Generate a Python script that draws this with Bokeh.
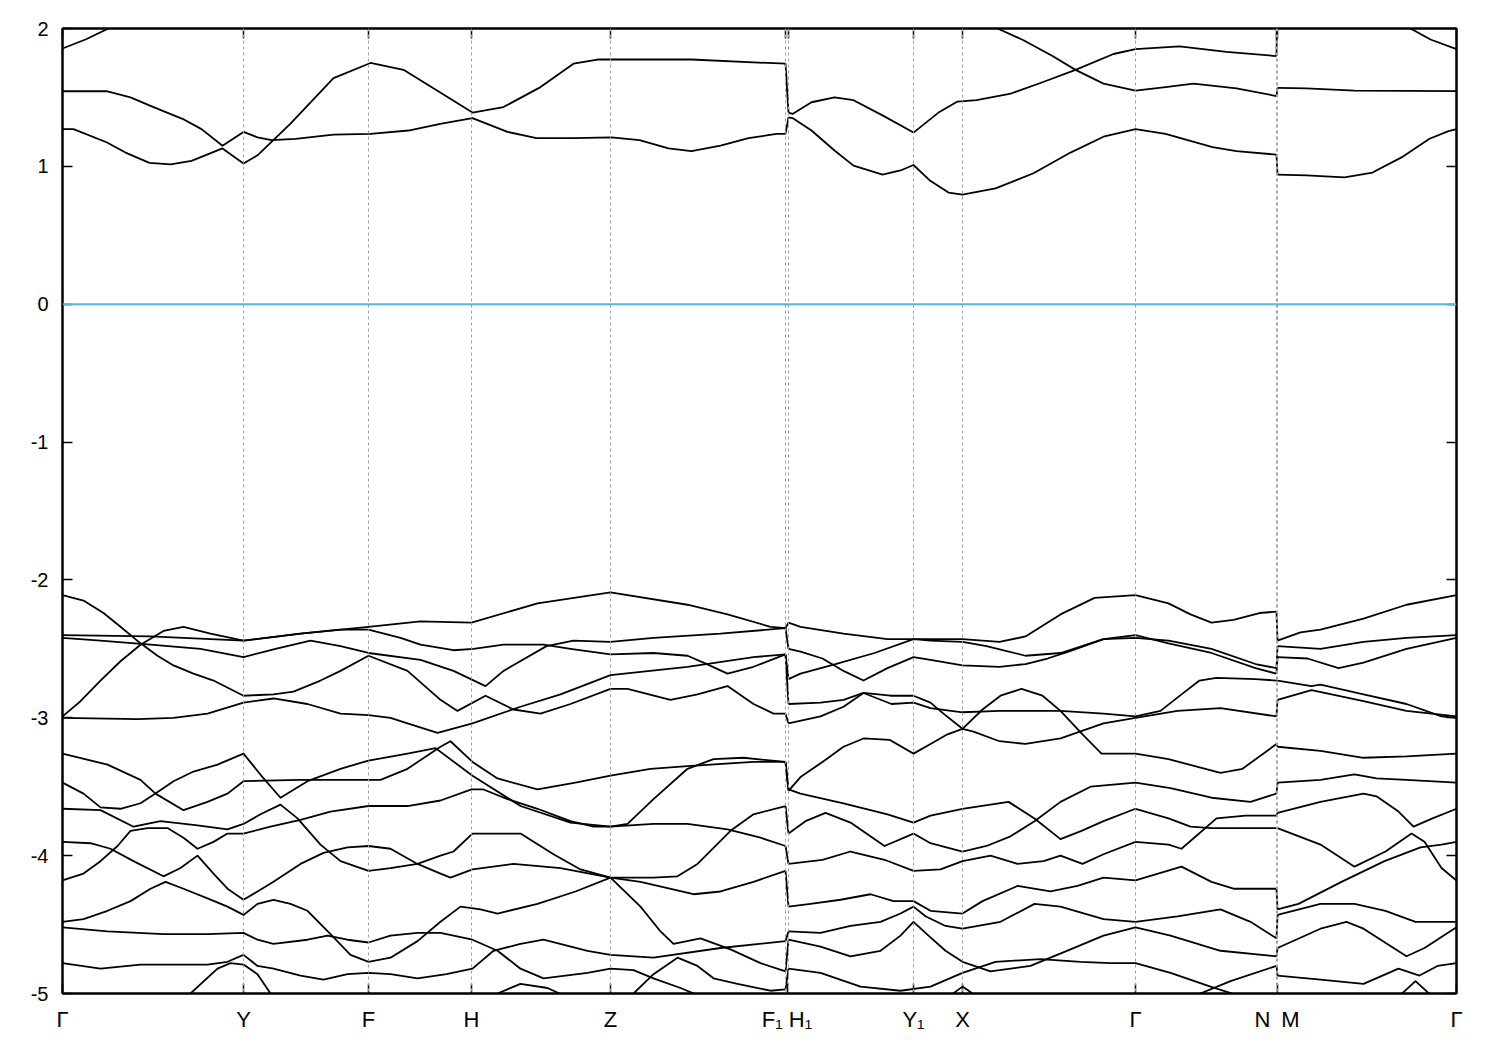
from bokeh.plotting import figure
from bokeh.models import FixedTicker, Span, LinearAxis, Range1d
from bokeh.embed import file_html
from bokeh.resources import INLINE

# ---------------- data ----------------
# high-symmetry points along the k-path (path length, arbitrary units)
K_POINTS = [0.000, 0.181, 0.306, 0.409, 0.548, 0.723, 0.726, 0.851, 0.900, 1.073, 1.214, 1.215, 1.394]
K_NAMES = ["Γ", "Y", "F", "H", "Z", "F₁", "H₁", "Y₁", "X", "Γ", "N", "M", "Γ"]
E_FERMI = 0.0
E_TICKS = [-5, -4, -3, -2, -1, 0, 1, 2]
E_TICK_TEXT = ["-5", "-4", "-3", "-2", "-1", "0", "1", "2"]

# ---- segment Γ-Y-F-H-Z-F1 : (k, E in eV) ----
ua1 = [(0.000, 1.27), (0.011, 1.27), (0.044, 1.175), (0.063, 1.10), (0.087, 1.025), (0.108, 1.015), (0.129, 1.04),
       (0.160, 1.13), (0.181, 1.02), (0.195, 1.08), (0.228, 1.31), (0.271, 1.64), (0.308, 1.75), (0.341, 1.70),
       (0.379, 1.53), (0.410, 1.39), (0.441, 1.43), (0.478, 1.575), (0.511, 1.745), (0.535, 1.775), (0.629, 1.775),
       (0.705, 1.75), (0.723, 1.745)]
ua2 = [(0.000, 1.545), (0.044, 1.545), (0.068, 1.50), (0.091, 1.43), (0.120, 1.345), (0.139, 1.27), (0.160, 1.15),
       (0.181, 1.25), (0.195, 1.21), (0.209, 1.19), (0.233, 1.20), (0.271, 1.23), (0.308, 1.235), (0.346, 1.26),
       (0.379, 1.31), (0.410, 1.35), (0.445, 1.25), (0.474, 1.205), (0.511, 1.205), (0.549, 1.21), (0.577, 1.19),
       (0.606, 1.13), (0.629, 1.11), (0.658, 1.15), (0.686, 1.205), (0.714, 1.235), (0.723, 1.235)]
ua3 = [(0.000, 1.855), (0.023, 1.92), (0.046, 2.00), (0.088, 2.20), (0.188, 2.40), (0.338, 2.50), (0.538, 2.40),
       (0.723, 2.30)]
a01 = [(0.000, -2.40), (0.088, -2.41), (0.181, -2.44), (0.238, -2.39), (0.306, -2.34), (0.358, -2.30), (0.409, -2.31),
       (0.475, -2.17), (0.548, -2.09), (0.625, -2.18), (0.665, -2.25), (0.708, -2.34), (0.723, -2.35)]
a02 = [(0.000, -2.11), (0.021, -2.15), (0.041, -2.24), (0.058, -2.34), (0.078, -2.46), (0.095, -2.55), (0.111, -2.62),
       (0.131, -2.68), (0.151, -2.73), (0.181, -2.84), (0.211, -2.83), (0.231, -2.81), (0.258, -2.73), (0.278, -2.66),
       (0.306, -2.55), (0.345, -2.66), (0.378, -2.87), (0.395, -2.95), (0.423, -2.84), (0.451, -2.94), (0.478, -2.97),
       (0.508, -2.90), (0.548, -2.79), (0.565, -2.79), (0.608, -2.87), (0.635, -2.83), (0.665, -2.77), (0.691, -2.90),
       (0.711, -2.97), (0.723, -2.97)]
a03 = [(0.000, -2.42), (0.038, -2.44), (0.088, -2.47), (0.138, -2.50), (0.181, -2.56), (0.213, -2.50), (0.248, -2.44),
       (0.278, -2.48), (0.306, -2.53), (0.358, -2.58), (0.391, -2.66), (0.423, -2.77), (0.441, -2.66), (0.484, -2.48),
       (0.511, -2.44), (0.548, -2.45), (0.591, -2.42), (0.658, -2.39), (0.723, -2.35)]
a04 = [(0.000, -2.99), (0.018, -2.88), (0.038, -2.73), (0.058, -2.59), (0.078, -2.47), (0.101, -2.37), (0.121, -2.34),
       (0.148, -2.39), (0.181, -2.44), (0.238, -2.39), (0.278, -2.36), (0.306, -2.36), (0.338, -2.42), (0.358, -2.47),
       (0.391, -2.51), (0.411, -2.50), (0.441, -2.47), (0.481, -2.47), (0.508, -2.50), (0.548, -2.54), (0.591, -2.53),
       (0.625, -2.55), (0.641, -2.60), (0.665, -2.68), (0.691, -2.63), (0.723, -2.54)]
a05 = [(0.000, -3.00), (0.075, -3.01), (0.111, -3.00), (0.145, -2.97), (0.181, -2.89), (0.211, -2.86), (0.245, -2.90),
       (0.278, -2.97), (0.306, -2.98), (0.328, -3.00), (0.345, -3.04), (0.375, -3.11), (0.410, -3.04), (0.458, -2.92),
       (0.498, -2.83), (0.548, -2.69), (0.625, -2.63), (0.691, -2.56), (0.723, -2.54)]
a06 = [(0.000, -3.26), (0.045, -3.34), (0.078, -3.45), (0.093, -3.55), (0.121, -3.67), (0.145, -3.61), (0.165, -3.55),
       (0.181, -3.46), (0.238, -3.45), (0.318, -3.45), (0.345, -3.37), (0.378, -3.21), (0.388, -3.17), (0.410, -3.32),
       (0.435, -3.44), (0.475, -3.52), (0.513, -3.47), (0.548, -3.42), (0.588, -3.37), (0.625, -3.35), (0.691, -3.32),
       (0.723, -3.32)]
a07 = [(0.000, -3.47), (0.021, -3.55), (0.038, -3.65), (0.058, -3.66), (0.078, -3.62), (0.093, -3.55), (0.111, -3.46),
       (0.131, -3.39), (0.155, -3.34), (0.181, -3.26), (0.200, -3.43), (0.218, -3.58), (0.245, -3.46), (0.278, -3.37),
       (0.306, -3.31), (0.345, -3.26), (0.373, -3.22), (0.410, -3.42), (0.458, -3.64), (0.508, -3.76), (0.548, -3.79),
       (0.591, -3.77), (0.625, -3.77), (0.665, -3.81), (0.698, -3.87), (0.723, -3.93)]
a08 = [(0.000, -3.66), (0.038, -3.67), (0.071, -3.79), (0.098, -3.75), (0.135, -3.78), (0.165, -3.81), (0.181, -3.77),
       (0.198, -3.70), (0.218, -3.63), (0.235, -3.73), (0.258, -3.92), (0.278, -4.04), (0.306, -4.11), (0.328, -4.09),
       (0.355, -4.06), (0.378, -4.00), (0.391, -3.97), (0.410, -3.84), (0.458, -3.84), (0.491, -3.99), (0.518, -4.10),
       (0.548, -4.16), (0.591, -4.16), (0.615, -4.15), (0.635, -4.06), (0.668, -3.82), (0.691, -3.70), (0.723, -3.64)]
a09 = [(0.000, -4.18), (0.021, -4.13), (0.038, -4.04), (0.055, -3.93), (0.068, -3.82), (0.085, -3.80), (0.105, -3.80),
       (0.121, -3.87), (0.135, -3.95), (0.151, -3.90), (0.165, -3.84), (0.181, -3.84), (0.208, -3.79), (0.238, -3.74),
       (0.268, -3.68), (0.306, -3.64), (0.345, -3.64), (0.378, -3.60), (0.409, -3.52), (0.421, -3.52), (0.445, -3.59),
       (0.475, -3.66), (0.508, -3.75), (0.531, -3.79), (0.548, -3.79), (0.565, -3.77), (0.591, -3.59), (0.625, -3.37),
       (0.651, -3.30), (0.681, -3.29), (0.723, -3.32)]
a10 = [(0.000, -3.90), (0.028, -3.91), (0.048, -3.95), (0.071, -4.04), (0.101, -4.15), (0.118, -4.09), (0.135, -4.00),
       (0.151, -4.13), (0.165, -4.24), (0.181, -4.32), (0.195, -4.26), (0.211, -4.19), (0.238, -4.06), (0.261, -3.98),
       (0.285, -3.94), (0.306, -3.93), (0.328, -3.95), (0.355, -4.06), (0.378, -4.13), (0.388, -4.16), (0.410, -4.10),
       (0.451, -4.06), (0.498, -4.09), (0.548, -4.16), (0.578, -4.19), (0.631, -4.28), (0.658, -4.26), (0.691, -4.19),
       (0.723, -4.11)]
a11 = [(0.000, -4.48), (0.021, -4.46), (0.045, -4.40), (0.068, -4.33), (0.088, -4.24), (0.103, -4.19), (0.121, -4.24),
       (0.145, -4.31), (0.165, -4.37), (0.181, -4.43), (0.195, -4.35), (0.211, -4.32), (0.228, -4.35), (0.245, -4.40),
       (0.268, -4.57), (0.288, -4.72), (0.306, -4.77), (0.328, -4.74), (0.355, -4.62), (0.378, -4.48), (0.398, -4.37),
       (0.418, -4.39), (0.435, -4.42), (0.475, -4.35), (0.513, -4.26), (0.548, -4.16), (0.578, -4.37), (0.598, -4.55),
       (0.611, -4.64), (0.638, -4.60), (0.668, -4.68), (0.698, -4.78), (0.723, -4.84)]
a12 = [(0.000, -4.52), (0.045, -4.55), (0.101, -4.57), (0.145, -4.57), (0.181, -4.56), (0.195, -4.61), (0.211, -4.64),
       (0.245, -4.61), (0.265, -4.58), (0.285, -4.61), (0.306, -4.63), (0.328, -4.58), (0.355, -4.56), (0.378, -4.56),
       (0.410, -4.61), (0.435, -4.69), (0.458, -4.82), (0.481, -4.89), (0.525, -4.85), (0.548, -4.82), (0.571, -4.83),
       (0.591, -4.89), (0.618, -4.96), (0.638, -5.02), (0.678, -5.09), (0.723, -5.11)]
a13 = [(0.000, -4.78), (0.038, -4.82), (0.078, -4.79), (0.145, -4.79), (0.165, -4.77), (0.181, -4.72), (0.195, -4.80),
       (0.211, -4.82), (0.238, -4.87), (0.261, -4.90), (0.285, -4.86), (0.306, -4.85), (0.328, -4.86), (0.355, -4.89),
       (0.384, -4.86), (0.410, -4.82), (0.431, -4.69), (0.458, -4.64), (0.481, -4.61), (0.525, -4.69), (0.548, -4.72),
       (0.591, -4.74), (0.658, -4.67), (0.723, -4.62)]
a14 = [(0.000, -5.13), (0.088, -5.09), (0.128, -5.00), (0.155, -4.82), (0.168, -4.78), (0.181, -4.79), (0.195, -4.86),
       (0.208, -5.00), (0.238, -5.13), (0.338, -5.14), (0.418, -5.06), (0.435, -5.00), (0.458, -4.93), (0.485, -4.96),
       (0.503, -5.02), (0.538, -5.11), (0.558, -5.06), (0.571, -5.00), (0.591, -4.86), (0.615, -4.74), (0.635, -4.80),
       (0.651, -4.89), (0.675, -4.93), (0.708, -4.98), (0.723, -4.97)]

# ---- segment H1-Y1-X-Γ-N ----
ub1 = [(0.726, 1.39), (0.730, 1.38), (0.749, 1.465), (0.772, 1.50), (0.791, 1.48), (0.820, 1.37), (0.851, 1.245),
       (0.876, 1.39), (0.895, 1.47), (0.914, 1.48), (0.947, 1.525), (0.980, 1.61), (1.013, 1.70), (1.051, 1.815),
       (1.073, 1.85), (1.117, 1.87), (1.164, 1.83), (1.214, 1.80)]
ub2 = [(0.726, 1.355), (0.730, 1.35), (0.749, 1.26), (0.772, 1.115), (0.791, 1.005), (0.820, 0.94), (0.838, 0.97),
       (0.851, 1.01), (0.867, 0.90), (0.886, 0.81), (0.900, 0.795), (0.933, 0.84), (0.971, 0.95), (1.008, 1.10),
       (1.041, 1.215), (1.073, 1.27), (1.103, 1.235), (1.150, 1.14), (1.174, 1.11), (1.214, 1.085)]
ub3 = [(0.726, 2.35), (0.838, 2.25), (0.908, 2.08), (0.935, 2.00), (0.961, 1.915), (0.990, 1.80), (1.013, 1.70),
       (1.041, 1.60), (1.073, 1.55), (1.103, 1.575), (1.131, 1.60), (1.174, 1.565), (1.214, 1.51)]
b01 = [(0.726, -2.31), (0.738, -2.34), (0.781, -2.39), (0.825, -2.43), (0.851, -2.43), (0.900, -2.43), (0.937, -2.45),
       (0.963, -2.41), (0.998, -2.25), (1.032, -2.13), (1.073, -2.11), (1.106, -2.17), (1.128, -2.25), (1.149, -2.31),
       (1.171, -2.29), (1.197, -2.24), (1.214, -2.23)]
b02 = [(0.726, -2.50), (0.738, -2.52), (0.760, -2.57), (0.781, -2.66), (0.801, -2.73), (0.825, -2.64), (0.851, -2.56),
       (0.868, -2.58), (0.900, -2.62), (0.937, -2.63), (0.963, -2.61), (0.985, -2.57), (1.006, -2.52), (1.041, -2.43),
       (1.073, -2.42), (1.106, -2.44), (1.149, -2.50), (1.193, -2.61), (1.214, -2.64)]
b03 = [(0.726, -2.72), (0.738, -2.68), (0.773, -2.61), (0.812, -2.53), (0.851, -2.43), (0.868, -2.44), (0.900, -2.45),
       (0.924, -2.48), (0.963, -2.55), (0.998, -2.53), (1.041, -2.43), (1.073, -2.40), (1.106, -2.46), (1.149, -2.53),
       (1.193, -2.64), (1.214, -2.68)]
b04 = [(0.726, -2.90), (0.758, -2.89), (0.781, -2.87), (0.801, -2.82), (0.828, -2.84), (0.851, -2.84), (0.868, -2.89),
       (0.881, -2.97), (0.900, -3.08), (0.911, -3.10), (0.937, -3.17), (0.963, -3.19), (0.998, -3.15), (1.041, -3.04),
       (1.073, -3.00), (1.115, -2.95), (1.158, -2.93), (1.214, -2.99)]
b05 = [(0.726, -3.04), (0.758, -2.99), (0.781, -2.92), (0.801, -2.82), (0.829, -2.90), (0.851, -2.89), (0.868, -2.93),
       (0.900, -2.96), (0.937, -2.95), (0.998, -2.95), (1.041, -2.97), (1.073, -2.99), (1.098, -2.95), (1.119, -2.83),
       (1.137, -2.73), (1.154, -2.71), (1.193, -2.72), (1.214, -2.73)]
b06 = [(0.726, -3.53), (0.738, -3.43), (0.760, -3.32), (0.781, -3.21), (0.801, -3.15), (0.827, -3.16), (0.851, -3.26),
       (0.868, -3.19), (0.885, -3.12), (0.900, -3.08), (0.920, -2.94), (0.938, -2.84), (0.959, -2.79), (0.980, -2.84),
       (0.998, -2.95), (1.020, -3.12), (1.039, -3.26), (1.073, -3.26), (1.106, -3.30), (1.158, -3.40), (1.180, -3.37),
       (1.214, -3.19)]
b07 = [(0.726, -3.84), (0.743, -3.75), (0.763, -3.69), (0.788, -3.76), (0.822, -3.93), (0.851, -3.84), (0.868, -3.91),
       (0.900, -3.97), (0.924, -3.93), (0.948, -3.86), (0.972, -3.75), (0.998, -3.61), (1.028, -3.50), (1.073, -3.47),
       (1.108, -3.51), (1.149, -3.58), (1.188, -3.61), (1.214, -3.55)]
b08 = [(0.726, -3.52), (0.738, -3.55), (0.781, -3.62), (0.825, -3.70), (0.851, -3.76), (0.868, -3.71), (0.900, -3.66),
       (0.946, -3.61), (0.972, -3.73), (0.998, -3.88), (1.019, -3.82), (1.041, -3.75), (1.073, -3.66), (1.106, -3.73),
       (1.128, -3.79), (1.149, -3.80), (1.214, -3.80)]
b09 = [(0.726, -4.06), (0.760, -4.03), (0.788, -3.97), (0.822, -4.03), (0.851, -4.11), (0.878, -4.10), (0.900, -4.04),
       (0.928, -4.00), (0.955, -4.06), (0.981, -4.04), (0.998, -4.00), (1.020, -4.06), (1.041, -3.99), (1.073, -3.90),
       (1.106, -3.92), (1.119, -3.95), (1.154, -3.73), (1.183, -3.71), (1.214, -3.71)]
b10 = [(0.726, -4.37), (0.748, -4.35), (0.778, -4.32), (0.808, -4.28), (0.831, -4.33), (0.851, -4.33), (0.868, -4.40),
       (0.900, -4.42), (0.920, -4.33), (0.955, -4.22), (0.988, -4.26), (1.015, -4.22), (1.041, -4.16), (1.073, -4.18),
       (1.119, -4.08), (1.149, -4.19), (1.171, -4.24), (1.214, -4.24)]
b11 = [(0.726, -4.55), (0.758, -4.56), (0.788, -4.51), (0.818, -4.48), (0.838, -4.42), (0.851, -4.37), (0.863, -4.44),
       (0.883, -4.51), (0.900, -4.53), (0.938, -4.48), (0.972, -4.35), (0.998, -4.37), (1.041, -4.46), (1.073, -4.48),
       (1.115, -4.44), (1.158, -4.39), (1.188, -4.48), (1.214, -4.60)]
b12 = [(0.726, -4.61), (0.758, -4.66), (0.788, -4.73), (0.818, -4.69), (0.838, -4.58), (0.851, -4.48), (0.866, -4.58),
       (0.883, -4.69), (0.900, -4.77), (0.928, -4.84), (0.968, -4.80), (1.008, -4.68), (1.041, -4.58), (1.073, -4.52),
       (1.108, -4.58), (1.158, -4.69), (1.214, -4.73)]
b13 = [(0.726, -4.82), (0.758, -4.85), (0.798, -4.95), (0.838, -4.98), (0.868, -4.95), (0.900, -4.85), (0.933, -4.77),
       (0.978, -4.75), (1.018, -4.77), (1.048, -4.78), (1.073, -4.78), (1.108, -4.85), (1.148, -4.95), (1.178, -5.02),
       (1.214, -5.09)]
b14 = [(0.726, -5.13), (0.838, -5.13), (0.883, -5.04), (0.900, -4.95), (0.918, -5.04), (0.988, -5.14), (1.073, -5.13),
       (1.118, -5.06), (1.168, -4.91), (1.214, -4.80)]

# ---- segment M-Γ ----
uc1 = [(1.215, 2.35), (1.278, 2.30), (1.328, 2.12), (1.348, 2.00), (1.368, 1.92), (1.394, 1.85)]
uc2 = [(1.215, 0.94), (1.244, 0.935), (1.282, 0.92), (1.310, 0.955), (1.339, 1.065), (1.367, 1.20), (1.386, 1.255),
       (1.394, 1.27)]
uc3 = [(1.215, 1.57), (1.244, 1.565), (1.292, 1.55), (1.394, 1.545)]
c01 = [(1.215, -2.44), (1.238, -2.38), (1.258, -2.36), (1.301, -2.28), (1.344, -2.18), (1.394, -2.11)]
c02 = [(1.215, -2.48), (1.258, -2.50), (1.301, -2.45), (1.344, -2.42), (1.394, -2.40)]
c03 = [(1.215, -2.56), (1.245, -2.57), (1.276, -2.64), (1.301, -2.60), (1.344, -2.50), (1.394, -2.42)]
c04 = [(1.215, -2.73), (1.249, -2.77), (1.258, -2.76), (1.301, -2.83), (1.344, -2.90), (1.379, -2.99), (1.394, -3.00)]
c05 = [(1.215, -2.87), (1.249, -2.80), (1.301, -2.88), (1.344, -2.95), (1.394, -2.99)]
c06 = [(1.215, -3.21), (1.258, -3.24), (1.301, -3.29), (1.344, -3.28), (1.394, -3.26)]
c07 = [(1.215, -3.47), (1.258, -3.45), (1.292, -3.41), (1.314, -3.44), (1.344, -3.45), (1.394, -3.47)]
c08 = [(1.215, -3.69), (1.258, -3.61), (1.301, -3.55), (1.314, -3.57), (1.336, -3.68), (1.351, -3.79), (1.370, -3.73),
       (1.394, -3.66)]
c09 = [(1.215, -3.80), (1.258, -3.92), (1.292, -4.08), (1.323, -3.97), (1.349, -3.84), (1.362, -3.90), (1.379, -4.09),
       (1.394, -4.18)]
c10 = [(1.215, -4.39), (1.236, -4.35), (1.279, -4.19), (1.322, -4.04), (1.358, -3.94), (1.379, -3.92), (1.394, -3.90)]
c11 = [(1.215, -4.43), (1.258, -4.35), (1.292, -4.35), (1.323, -4.40), (1.353, -4.48), (1.394, -4.48)]
c12 = [(1.215, -4.67), (1.258, -4.53), (1.284, -4.48), (1.301, -4.53), (1.344, -4.73), (1.362, -4.67), (1.394, -4.52)]
c13 = [(1.215, -4.87), (1.258, -4.90), (1.301, -4.93), (1.336, -4.82), (1.357, -4.87), (1.375, -4.80), (1.394, -4.78)]
c14 = [(1.215, -5.13), (1.318, -5.09), (1.338, -5.01), (1.353, -4.91), (1.368, -5.01), (1.394, -5.13)]

SEG_A = [ua1, ua2, ua3, a01, a02, a03, a04, a05, a06, a07, a08, a09, a10, a11, a12, a13, a14]
SEG_B = [ub1, ub2, ub3, b01, b02, b03, b04, b05, b06, b07, b08, b09, b10, b11, b12, b13, b14]
SEG_C = [uc1, uc2, uc3, c01, c02, c03, c04, c05, c06, c07, c08, c09, c10, c11, c12, c13, c14]

# ---------------- figure ----------------
p = figure(frame_width=1394, frame_height=965, output_backend="svg", toolbar_location=None,
           x_range=Range1d(K_POINTS[0], K_POINTS[-1]), y_range=Range1d(-5, 2),
           min_border_left=62, min_border_top=28, min_border_right=28, min_border_bottom=50)
p.background_fill_color = "white"
p.border_fill_color = "white"
p.outline_line_color = "black"
p.outline_line_width = 2
p.xgrid.visible = False
p.ygrid.visible = False

for kp in K_POINTS[1:-1]:
    p.add_layout(Span(location=kp, dimension="height", line_color="#a0a0a0", line_width=1, line_dash="3 3"))

p.add_layout(Span(location=E_FERMI, dimension="width", line_color="#56b4e9", line_width=2))

LW = 1.8
for seg in (SEG_A, SEG_B, SEG_C):
    for curve in seg:
        p.line([c[0] for c in curve], [c[1] for c in curve], line_color="black", line_width=LW,
               line_join="round")


# bands are joined across the path discontinuities by band index (energy order)
def joins(left, right):
    ends = sorted(c[-1][1] for c in left)
    starts = sorted(c[0][1] for c in right)
    k0 = left[0][-1][0]
    k1 = right[0][0][0]
    return [k0] * len(ends), ends, [k1] * len(starts), starts


for lseg, rseg in ((SEG_A, SEG_B), (SEG_B, SEG_C)):
    x0, y0, x1, y1 = joins(lseg, rseg)
    p.segment(x0=x0, y0=y0, x1=x1, y1=y1, line_color="black", line_width=LW)

# axes
label_ticks = [0.000, 0.181, 0.306, 0.409, 0.548, 0.7245, 0.851, 0.900, 1.073, 1.2145, 1.394]
label_text = ["Γ", "Y", "F", "H", "Z", "F₁ H₁", "Y₁", "X", "Γ", "N\u2002M", "Γ"]
xa = p.xaxis[0]
xa.ticker = FixedTicker(ticks=label_ticks)
xa.major_label_overrides = {t: s for t, s in zip(label_ticks, label_text)}
ya = p.yaxis[0]
ya.ticker = FixedTicker(ticks=E_TICKS)
ya.major_label_overrides = {t: s for t, s in zip(E_TICKS, E_TICK_TEXT)}
for ax in (xa, ya):
    ax.axis_line_width = 2
    ax.major_tick_line_width = 1.5
    ax.major_tick_in = 10
    ax.major_tick_out = 0
    ax.minor_tick_in = 0
    ax.minor_tick_out = 0
    ax.major_label_text_font = "Liberation Sans"
    ax.major_label_text_color = "black"
xa.major_label_text_font_size = "22px"
xa.major_label_standoff = 13
ya.major_label_text_font_size = "20px"
ya.major_label_standoff = 14

top = LinearAxis(ticker=FixedTicker(ticks=K_POINTS), major_label_overrides={t: "" for t in K_POINTS})
right = LinearAxis(ticker=FixedTicker(ticks=E_TICKS), major_label_overrides={t: "" for t in E_TICKS})
for ax in (top, right):
    ax.axis_line_width = 2
    ax.major_tick_line_width = 1.5
    ax.major_tick_in = 10
    ax.major_tick_out = 0
    ax.minor_tick_in = 0
    ax.minor_tick_out = 0
    ax.major_label_standoff = 0
    ax.major_label_text_font_size = "1px"
p.add_layout(top, "above")
p.add_layout(right, "right")

open("out.html", "w").write(file_html(p, INLINE))
